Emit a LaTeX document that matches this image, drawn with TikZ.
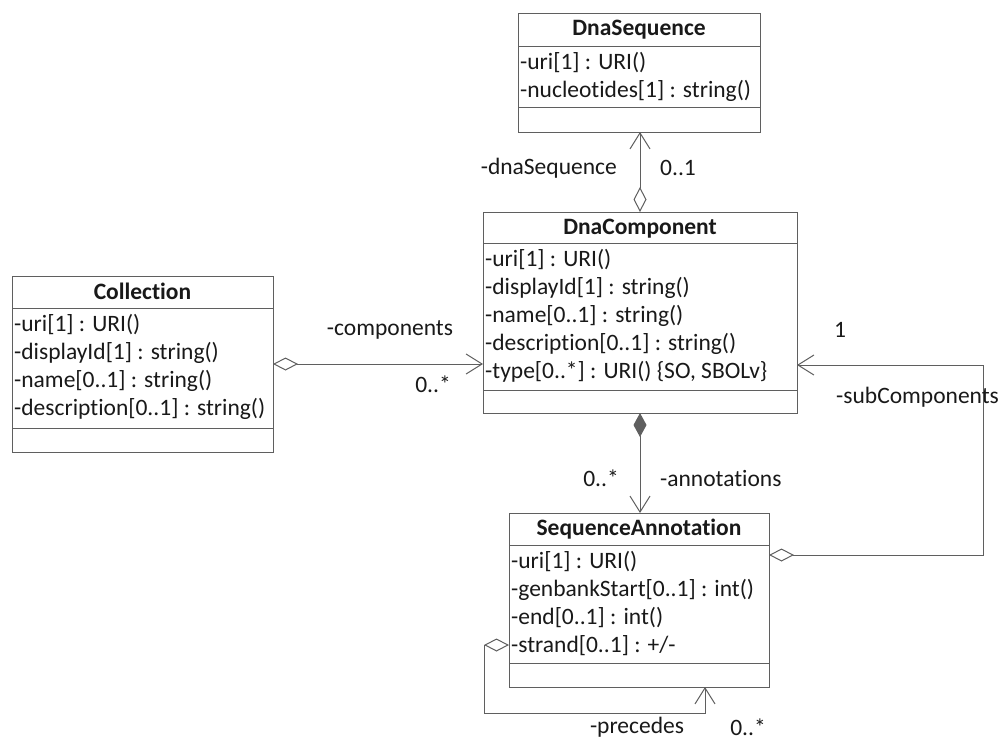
\documentclass[tikz,border=0pt]{standalone}
\usepackage{fontspec}
\setmainfont{Carlito}[Ligatures=NoCommon]
\usetikzlibrary{arrows.meta,calc}
\definecolor{linec}{RGB}{95,95,95}
\definecolor{txtc}{RGB}{25,25,25}
\begin{document}
\begin{tikzpicture}[x=1pt,y=-1pt,
  clsbox/.style={draw=linec, line width=1pt, inner sep=0pt, outer sep=0pt, anchor=north west},
  sepline/.style={draw=linec, line width=1pt},
  ttl/.style={anchor=base, inner sep=0pt, font=\fontsize{23.5}{28}\selectfont\bfseries, text=txtc},
  attr/.style={anchor=base west, inner sep=0pt, font=\fontsize{23.5}{28}\selectfont, text=txtc},
  lbl/.style={inner sep=0pt, font=\fontsize{23.5}{28}\selectfont, text=txtc},
  conn/.style={draw=linec, line width=1pt},
  aggr/.style={conn, {Diamond[open,length=25pt,width=13pt]}-{Straight Barb[length=16pt,width=20pt]}},
  comp/.style={conn, {Diamond[length=24pt,width=13pt]}-{Straight Barb[length=16pt,width=20pt]}}
]
\fill[white] (0,0) rectangle (1001,740);
\useasboundingbox (0,0) rectangle (1001,740);

% ---------- DnaSequence ----------
\node[clsbox, minimum width=242pt, minimum height=119pt] (ds) at (518,13) {};
\draw[sepline] ($(ds.north west)+(0,33)$) -- ($(ds.north east)+(0,33)$);
\draw[sepline] ($(ds.north west)+(0,94)$) -- ($(ds.north east)+(0,94)$);
\node[ttl] (dst) at ($(ds.north)+(0,22)$) {DnaSequence};
\node[attr] (ds1) at ($(ds.north west)+(2,56.5)$) {-uri[1] : URI()};
\node[attr] (ds2) at ($(ds.north west)+(2,84.5)$) {-nucleotides[1] : string()};

% ---------- DnaComponent ----------
\node[clsbox, minimum width=314pt, minimum height=201pt] (dc) at (483,212) {};
\draw[sepline] ($(dc.north west)+(0,31)$) -- ($(dc.north east)+(0,31)$);
\draw[sepline] ($(dc.north west)+(0,178)$) -- ($(dc.north east)+(0,178)$);
\node[ttl] (dct) at ($(dc.north)+(0,22)$) {DnaComponent};
\node[attr] (dc1) at ($(dc.north west)+(2,54.5)$) {-uri[1] : URI()};
\node[attr] (dc2) at ($(dc.north west)+(2,82.5)$) {-displayId[1] : string()};
\node[attr] (dc3) at ($(dc.north west)+(2,110.5)$) {-name[0..1] : string()};
\node[attr] (dc4) at ($(dc.north west)+(2,138.5)$) {-description[0..1] : string()};
\node[attr] (dc5) at ($(dc.north west)+(2,166.5)$) {-type[0..*] : URI() \{SO, SBOLv\}};

% ---------- Collection ----------
\node[clsbox, minimum width=261pt, minimum height=176pt] (col) at (12,276) {};
\draw[sepline] ($(col.north west)+(0,32)$) -- ($(col.north east)+(0,32)$);
\draw[sepline] ($(col.north west)+(0,152)$) -- ($(col.north east)+(0,152)$);
\node[ttl] (colt) at ($(col.north)+(0,23)$) {Collection};
\node[attr] (col1) at ($(col.north west)+(2,55.5)$) {-uri[1] : URI()};
\node[attr] (col2) at ($(col.north west)+(2,83.5)$) {-displayId[1] : string()};
\node[attr] (col3) at ($(col.north west)+(2,111.5)$) {-name[0..1] : string()};
\node[attr] (col4) at ($(col.north west)+(2,139.5)$) {-description[0..1] : string()};

% ---------- SequenceAnnotation ----------
\node[clsbox, minimum width=260pt, minimum height=174pt] (sa) at (509,513) {};
\draw[sepline] ($(sa.north west)+(0,32)$) -- ($(sa.north east)+(0,32)$);
\draw[sepline] ($(sa.north west)+(0,150)$) -- ($(sa.north east)+(0,150)$);
\node[ttl] (sat) at ($(sa.north)+(0,22)$) {SequenceAnnotation};
\node[attr] (sa1) at ($(sa.north west)+(2,55.5)$) {-uri[1] : URI()};
\node[attr] (sa2) at ($(sa.north west)+(2,83.5)$) {-genbankStart[0..1] : int()};
\node[attr] (sa3) at ($(sa.north west)+(2,111.5)$) {-end[0..1] : int()};
\node[attr] (sa4) at ($(sa.north west)+(2,139.5)$) {-strand[0..1] : +/-};

% ---------- connectors ----------
% DnaComponent -> DnaSequence
\draw[aggr] (dc.north) -- (dc.north |- ds.south);
\node[lbl, anchor=east] (l1) at (617,168) {-dnaSequence};
\node[lbl, anchor=west] (l2) at (660,168) {0..1};

% Collection -> DnaComponent
\draw[aggr] (col.east) -- (col.east -| dc.west);
\node[lbl] (l3) at (390,330) {-components};
\node[lbl] (l4) at (433,384) {0..*};

% DnaComponent -> SequenceAnnotation (composition)
\draw[comp] (dc.south) -- (dc.south |- sa.north);
\node[lbl] (l5) at (601,478) {0..*};
\node[lbl, anchor=west] (l6) at (660,478) {-annotations};

% SequenceAnnotation -> DnaComponent (subComponents)
\coordinate (subS) at ($(sa.north east)+(0,42)$);
\coordinate (subR) at (983,365);
\draw[aggr] (subS) -| (subR) -- (subR -| dc.east);
\node[lbl] (l7) at (840,330) {1};
\node[lbl, anchor=west] (l8) at (836,397) {-subComponents};

% SequenceAnnotation self loop (precedes)
\coordinate (loopA) at ($(sa.north west)+(0,132)$);
\coordinate (loopB) at ($(sa.south west)+(196,0)$);
\draw[aggr] (loopA) -- ++(-25,0) |- ($(loopB)+(0,26)$) -- (loopB);
\node[lbl] (l9) at (637,727) {-precedes};
\node[lbl] (l10) at (748,727) {0..*};
\end{tikzpicture}
\end{document}
